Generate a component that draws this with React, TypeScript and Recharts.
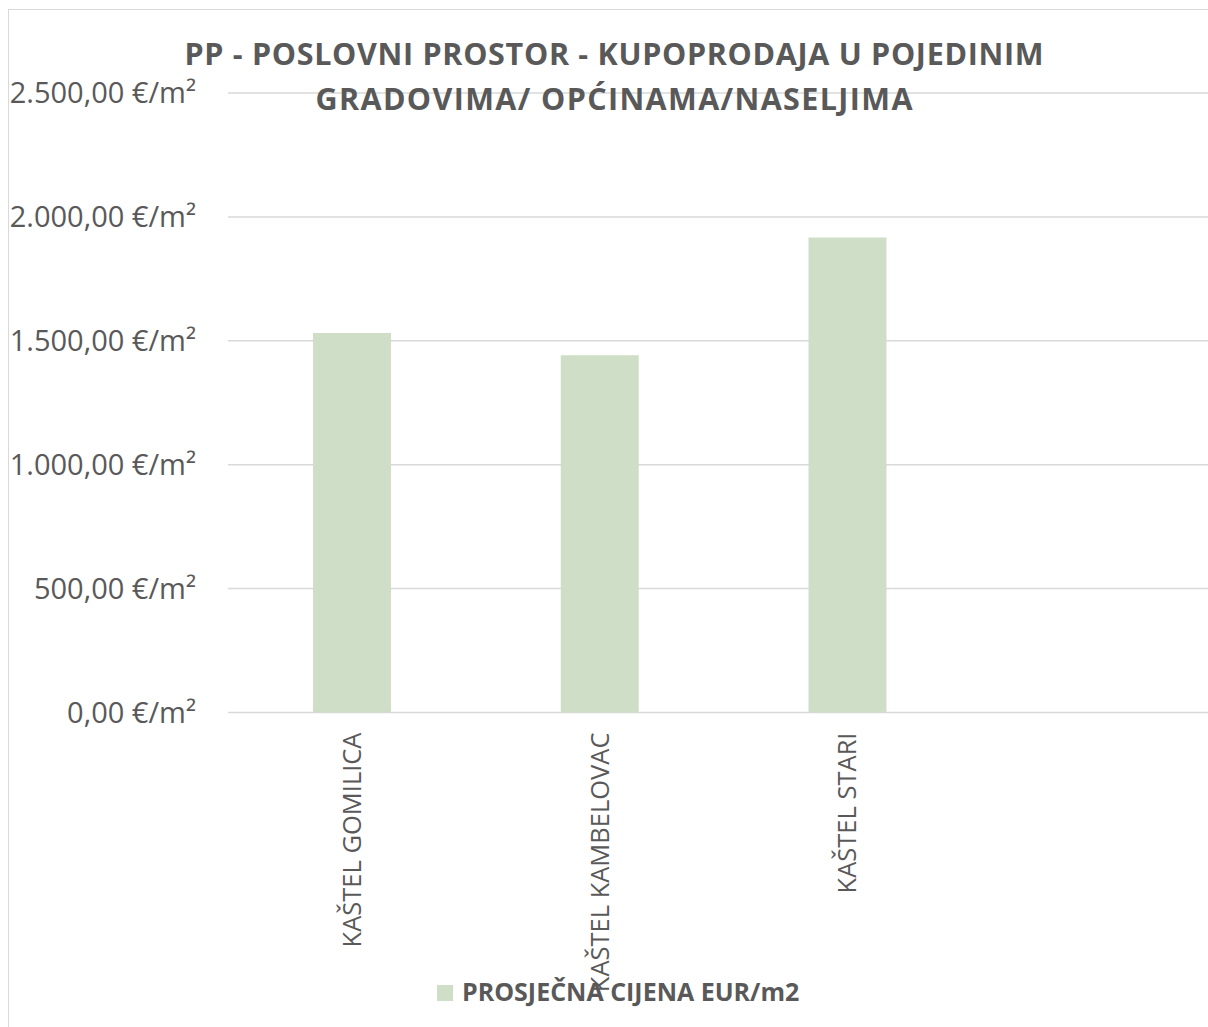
import React from "react";
import { BarChart, Bar, XAxis, YAxis, CartesianGrid, Legend } from "recharts";

const categories = ["KAŠTEL GOMILICA", "KAŠTEL KAMBELOVAC", "KAŠTEL STARI", ""];
const prices: (number | null)[] = [1531, 1442, 1917, null];
const yTicks = [0, 500, 1000, 1500, 2000, 2500];
const seriesName = "PROSJEČNA CIJENA EUR/m2";
const titleLines = ["PP - POSLOVNI PROSTOR - KUPOPRODAJA U POJEDINIM", "GRADOVIMA/ OPĆINAMA/NASELJIMA"];

const data = categories.map((c, i) => ({ name: c, value: prices[i] }));

const TEXT = "#595959";
const BAR = "#CFDEC7";
const GRID = "#D9D9D9";
const FONT = "'Open Sans', sans-serif";

function formatEuro(v: number): string {
  const fixed = v.toFixed(2);
  const [intPart, dec] = fixed.split(".");
  const withDots = intPart.replace(/\B(?=(\d{3})+(?!\d))/g, ".");
  return `${withDots},${dec} €/m²`;
}

const XTick = (props: any) => {
  const { x, y, payload } = props;
  const ty = y + 20;
  return (
    <text
      x={x}
      y={ty}
      transform={`rotate(-90, ${x}, ${ty})`}
      textAnchor="end"
      dy="0.355em"
      fill={TEXT}
      fontSize={25.5}
      fontFamily={FONT}
    >
      {payload.value}
    </text>
  );
};

const renderLegend = (props: any) => {
  const { payload } = props;
  return (
    <div style={{ display: "flex", alignItems: "flex-start" }}>
      {(payload || []).map((entry: any, i: number) => (
        <div key={i} style={{ display: "flex", alignItems: "flex-start" }}>
          <span
            style={{
              display: "inline-block",
              width: 16,
              height: 16,
              marginTop: 11,
              marginRight: 9,
              background: entry.color,
            }}
          />
          <span
            style={{
              fontFamily: FONT,
              fontWeight: 700,
              fontSize: 25,
              lineHeight: "34px",
              color: TEXT,
              whiteSpace: "nowrap",
            }}
          >
            {entry.value}
          </span>
        </div>
      ))}
    </div>
  );
};

export default function App() {
  return (
    <div
      style={{
        position: "fixed",
        left: 8,
        top: 8,
        width: 1200,
        height: 1019,
        overflow: "hidden",
        background: "#fff",
      }}
    >
      <div
        style={{
          position: "absolute",
          left: 0,
          top: 1,
          width: 1300,
          height: 1200,
          border: `1px solid ${GRID}`,
          boxSizing: "border-box",
        }}
      />
      <BarChart
        width={1240}
        height={1019}
        data={data}
        margin={{ top: 85, right: 29, left: 0, bottom: 0 }}
      >
        <CartesianGrid vertical={false} stroke={GRID} strokeWidth={1.5} />
        <XAxis
          dataKey="name"
          axisLine={false}
          tickLine={false}
          tickSize={0}
          tickMargin={0}
          interval={0}
          height={314.5}
          tick={<XTick />}
        />
        <YAxis
          domain={[0, 2500]}
          ticks={yTicks}
          axisLine={false}
          tickLine={false}
          tickSize={0}
          tickMargin={32}
          width={220}
          tickFormatter={formatEuro}
          tick={{ fill: TEXT, fontSize: 29, fontFamily: FONT }}
        />
        <Legend
          layout="horizontal"
          verticalAlign="middle"
          align="center"
          content={renderLegend}
          wrapperStyle={{ left: 429, top: 966, width: 500, height: 40 }}
        />
        <Bar dataKey="value" name={seriesName} fill={BAR} barSize={78} isAnimationActive={false} />
      </BarChart>
      <svg
        width={1200}
        height={130}
        style={{ position: "absolute", left: 0, top: 0, pointerEvents: "none" }}
      >
        <text
          x={606}
          y={57}
          textAnchor="middle"
          textLength={859}
          lengthAdjust="spacing"
          fill={TEXT}
          fontFamily={FONT}
          fontWeight={700}
          fontSize={30.5}
        >
          {titleLines[0]}
        </text>
        <text
          x={606}
          y={102}
          textAnchor="middle"
          textLength={597}
          lengthAdjust="spacing"
          fill={TEXT}
          fontFamily={FONT}
          fontWeight={700}
          fontSize={30.5}
        >
          {titleLines[1]}
        </text>
      </svg>
    </div>
  );
}
